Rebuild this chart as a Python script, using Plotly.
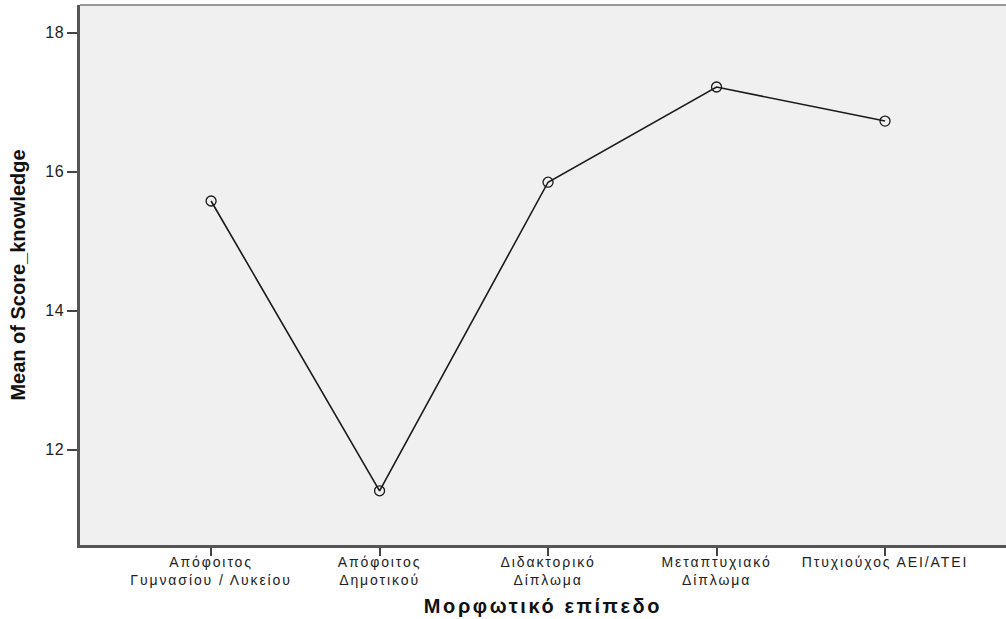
import plotly.graph_objects as go

categories = ["Απόφοιτος<br>Γυμνασίου / Λυκείου", "Απόφοιτος<br>Δημοτικού",
              "Διδακτορικό<br>Δίπλωμα", "Μεταπτυχιακό<br>Δίπλωμα", "Πτυχιούχος ΑΕΙ/ΑΤΕΙ"]
means = [15.58, 11.41, 15.85, 17.22, 16.73]
ytick_vals = [12, 14, 16, 18]


def spaced(txt, px):
    return "<br>".join(f'<span style="letter-spacing:{px}px">{p}</span>' for p in txt.split("<br>"))


fig = go.Figure()
fig.add_trace(go.Scatter(
    x=list(range(len(categories))), y=means, mode="lines+markers",
    line=dict(color="#1a1a1a", width=1.6),
    marker=dict(symbol="circle-open", size=10, color="#1a1a1a", line=dict(width=1.3)),
    showlegend=False, hoverinfo="skip"))

fig.update_layout(
    width=1006, height=619,
    margin=dict(l=80, r=0, t=5, b=74),
    paper_bgcolor="white", plot_bgcolor="#f0f0f0",
    font=dict(family="Liberation Sans, Arial", size=12, color="#222"),
    xaxis=dict(
        tickmode="array", tickvals=list(range(len(categories))),
        ticktext=[spaced(c, 1.9) for c in categories],
        range=[-0.778, 4.718], showgrid=False, zeroline=False,
        showline=True, linecolor="#555", linewidth=2.5,
        ticks="outside", ticklen=8, tickwidth=2, tickcolor="#444",
        ticklabelstandoff=-6,
        tickfont=dict(size=14, color="#222"),
        title=dict(text=spaced("<b>Μορφωτικό επίπεδο</b>", 2.6),
                   font=dict(size=20, color="#111"), standoff=13),
    ),
    yaxis=dict(
        tickmode="array", tickvals=ytick_vals, ticktext=[spaced(str(v), 0.5) for v in ytick_vals],
        range=[10.63, 18.40], showgrid=False, zeroline=False,
        showline=True, linecolor="#555", linewidth=2.5,
        ticks="outside", ticklen=10, tickwidth=2, tickcolor="#444",
        tickfont=dict(size=16, color="#222"),
        title=dict(text="<b>Mean of Score_knowledge</b>",
                   font=dict(family="Liberation Sans, Arial", size=20, color="#111"),
                   standoff=15),
    ),
)
fig.add_shape(type="line", xref="paper", yref="paper", x0=0, x1=1, y0=1, y1=1,
              line=dict(color="#999", width=2))
fig.write_html("out.html", config={"displayModeBar": False},
               post_script="document.body.style.margin='0px';")
